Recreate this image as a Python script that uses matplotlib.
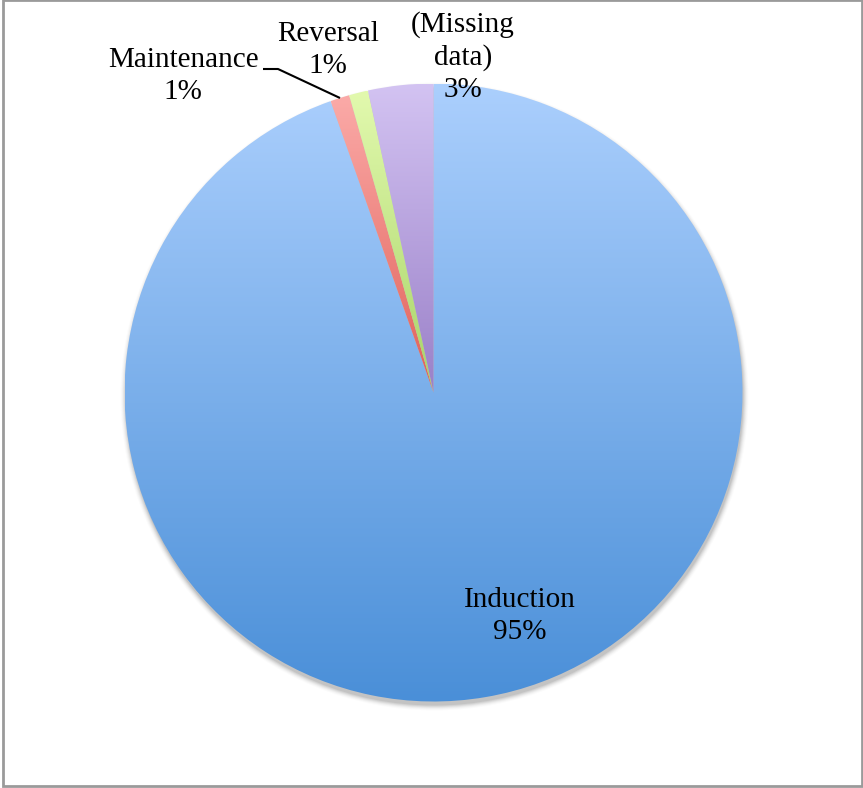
import numpy as np
import matplotlib
matplotlib.use("Agg")
import matplotlib.pyplot as plt
from matplotlib.colors import LinearSegmentedColormap
from matplotlib.patches import Rectangle, Circle

categories = ["Induction", "Maintenance", "Reversal", "(Missing\ndata)"]
values = [94.6, 1.0, 1.0, 3.4]
pct_labels = ["95%", "1%", "1%", "3%"]
top_colors = ["#abcffd", "#fbaaa8", "#e2f9ae", "#d3c3f2"]
bot_colors = ["#4a8fd8", "#e06058", "#a8d468", "#9a80c8"]

W, H = 863, 788
fig = plt.figure(figsize=(W / 100, H / 100), dpi=100)
ax = fig.add_axes([0, 0, 1, 1])

cx, cy, R = 433.5, H - 392.5, 309

# soft shadow
for i, a in enumerate(np.linspace(0.02, 0.10, 6)):
    ax.add_patch(Circle((cx + 1, cy - 4), R + 5 - i, facecolor="#000000",
                        alpha=a * 0.7, edgecolor="none", zorder=1))

wedges, _ = ax.pie(values, center=(cx, cy), radius=R, startangle=90,
                   counterclock=False, colors=["none"] * 4,
                   wedgeprops=dict(linewidth=0, edgecolor="none"), frame=True)
ax.set_xlim(0, W)
ax.set_ylim(0, H)
ax.set_aspect("equal")
ax.axis("off")

for w, c0, c1 in zip(wedges, top_colors, bot_colors):
    w.set_zorder(2)
    ext = w.get_path().get_extents(w.get_patch_transform())
    cmap = LinearSegmentedColormap.from_list("g", [c1, c0])
    grad = np.linspace(0, 1, 256).reshape(-1, 1)
    if w is wedges[0]:
        x0, x1, y0, y1 = cx - R, cx + R, cy - R, cy + R
    else:
        x0, x1, y0, y1 = ext.x0, ext.x1, ext.y0, ext.y1
    im = ax.imshow(grad, cmap=cmap, extent=(x0, x1, y0, y1), origin="lower",
                   aspect="auto", zorder=2, interpolation="bilinear")
    im.set_clip_path(w)
ax.set_xlim(0, W)
ax.set_ylim(0, H)

font = dict(family="Liberation Serif", fontsize=21, color="black",
            ha="center", va="center", linespacing=1.3, zorder=5)

ax.text(520, H - 616, categories[0] + "\n" + pct_labels[0], **font)
ax.text(183, H - 76, categories[1] + "\n" + pct_labels[1], **font)
ax.text(328, H - 50, categories[2] + "\n" + pct_labels[2], **font)
ax.text(463, H - 57, categories[3] + "\n" + pct_labels[3], **font)

# leader line for Maintenance
ax.plot([263, 278, 340], [H - 69, H - 69, H - 98], color="black", lw=1.5,
        zorder=6, solid_capstyle="butt")

# outer frame
ax.add_patch(Rectangle((3, H - 786), 859, 786, facecolor="none",
                       edgecolor="#9a9a9a", lw=2, zorder=7))

fig.savefig("out.png", dpi=100)
